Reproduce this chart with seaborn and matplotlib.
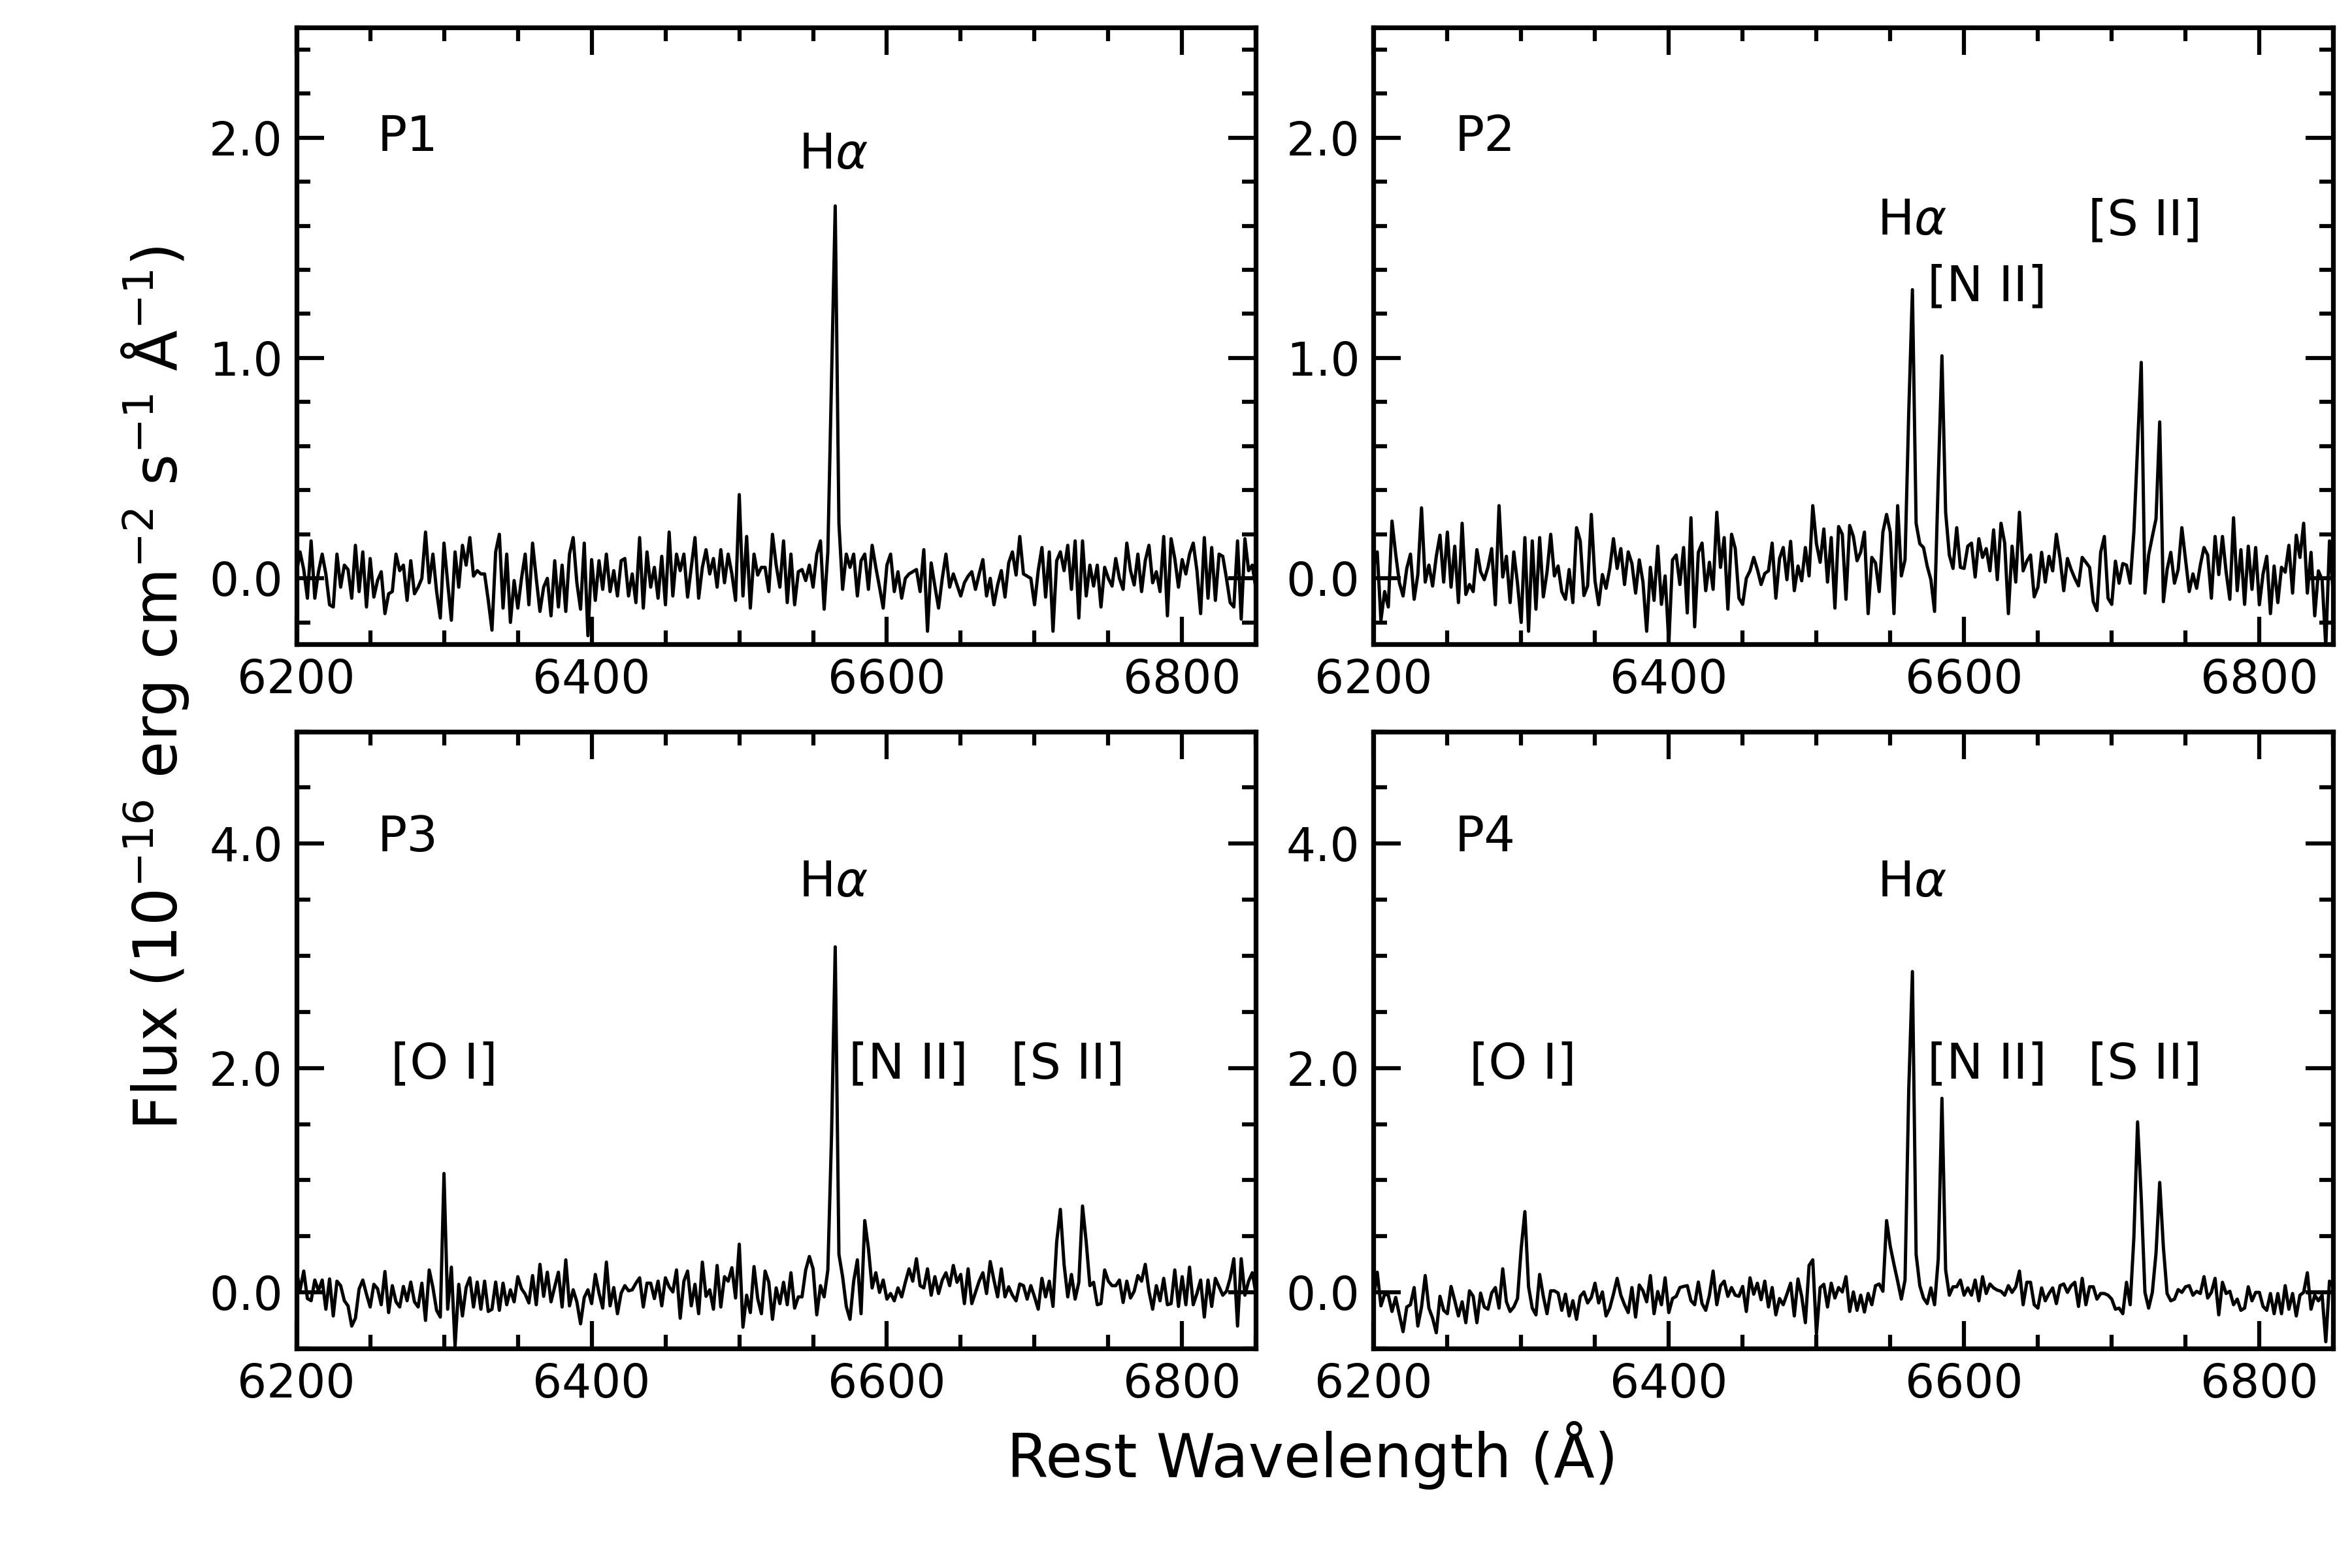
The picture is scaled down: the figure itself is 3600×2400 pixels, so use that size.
"""Spectra of four positions (P1-P4) around H-alpha, 2x2 panel figure."""

import matplotlib

matplotlib.use("Agg")
import matplotlib.pyplot as plt
import numpy as np
import pandas as pd
import seaborn as sns
from matplotlib.ticker import FormatStrFormatter, MultipleLocator

# Rest-frame wavelength grid of the spectra (Angstrom).
wavelength = np.arange(6200.0, 6850.0 + 1.25, 2.5)

# Flux in units of 1e-16 erg cm^-2 s^-1 A^-1, one row per 50 A.
flux_p1 = [
    0.02, 0.12, 0.04, -0.09, 0.17, -0.09, 0.03, 0.11, 0.02, -0.12, -0.13, 0.11, -0.04, 0.06, 0.04, -0.09, 0.15, -0.06, 0.12, -0.13,
    0.09, -0.085, -0.01, 0.03, -0.16, -0.07, -0.06, 0.11, 0.035, 0.06, -0.10, 0.08, -0.07, -0.04, 0.0, 0.21, -0.02, 0.11, -0.06, -0.18,
    0.16, -0.02, -0.19, 0.12, -0.04, 0.15, 0.06, 0.185, 0.01, 0.035, 0.02, 0.02, -0.1, -0.235, 0.12, 0.2, -0.135, 0.11, -0.2, -0.01,
    -0.135, 0.0, 0.11, -0.12, 0.16, 0.0, -0.15, -0.04, 0.0, -0.17, 0.08, -0.13, 0.06, -0.15, 0.11, 0.185, -0.02, -0.14, 0.16, -0.26,
    0.085, -0.1, 0.08, -0.05, 0.11, -0.06, 0.035, -0.08, 0.08, 0.09, -0.08, 0.02, -0.11, 0.185, -0.135, 0.12, -0.04, 0.05, -0.09, 0.1,
    -0.12, 0.21, -0.08, 0.11, 0.035, 0.11, -0.085, 0.05, 0.185, -0.09, 0.05, 0.13, 0.02, 0.09, -0.04, 0.13, -0.02, 0.11, 0.02, -0.1,
    0.38, -0.08, 0.19, -0.135, 0.11, 0.015, 0.05, 0.05, -0.06, 0.2, 0.06, -0.04, 0.17, -0.11, 0.11, -0.12, 0.03, 0.04, -0.01, 0.06,
    -0.04, 0.11, 0.17, -0.14, 0.12, 0.9, 1.69, 0.25, -0.05, 0.11, 0.05, 0.11, -0.08, 0.08, 0.11, -0.05, 0.15, 0.05, -0.04, -0.135,
    0.06, 0.11, -0.06, 0.03, -0.09, 0.0, 0.02, 0.03, 0.04, -0.06, 0.13, -0.24, 0.07, -0.035, -0.135, 0.0, 0.11, -0.04, 0.02, -0.03,
    -0.08, -0.02, 0.01, 0.03, -0.05, 0.02, 0.085, -0.08, 0.0, -0.12, -0.03, 0.035, -0.085, 0.07, 0.12, 0.015, 0.19, 0.02, 0.01, 0.0,
    -0.12, 0.035, 0.14, -0.085, 0.12, -0.24, 0.08, 0.12, 0.035, 0.15, -0.05, 0.17, -0.18, 0.17, -0.08, 0.06, -0.035, 0.06, -0.13, 0.05,
    0.0, -0.035, 0.09, 0.0, -0.05, 0.16, 0.035, -0.03, 0.11, -0.06, 0.08, 0.15, -0.02, 0.03, -0.06, 0.19, -0.17, 0.18, 0.09, -0.04,
    0.085, 0.02, 0.11, 0.16, 0.035, -0.16, 0.185, -0.09, 0.14, -0.1, 0.11, 0.1, 0.0, -0.11, -0.13, 0.17, -0.185, 0.18, 0.035, 0.06,
    -0.05,
]

flux_p2 = [
    0.05, 0.12, -0.19, -0.06, -0.13, 0.26, 0.11, -0.02, -0.08, 0.045, 0.11, -0.095, 0.017, 0.32, -0.017, 0.06, -0.035, 0.10, 0.196, -0.017,
    0.21, -0.04, 0.146, -0.11, 0.25, -0.073, -0.028, -0.06, 0.13, 0.03, -0.006, 0.05, 0.135, -0.12, 0.33, 0.006, 0.10, -0.11, 0.12, -0.022,
    -0.2, 0.185, -0.24, 0.17, -0.14, 0.185, -0.084, 0.028, 0.2, 0.011, 0.056, -0.06, -0.095, 0.04, -0.11, 0.23, 0.17, -0.078, -0.034, 0.29,
    -0.011, -0.12, 0.017, -0.045, 0.045, 0.18, 0.045, 0.135, -0.028, 0.12, 0.067, -0.067, 0.084, -0.017, -0.24, 0.05, -0.1, 0.146, -0.118, 0.011,
    -0.29, 0.084, 0.106, -0.028, 0.14, -0.157, 0.275, -0.22, 0.118, 0.16, -0.056, 0.073, -0.05, 0.30, 0.05, 0.185, -0.14, 0.2, 0.135, -0.09,
    -0.118, 0.0, 0.034, 0.095, 0.04, -0.028, 0.022, 0.034, 0.16, -0.09, 0.09, 0.14, -0.006, 0.168, -0.056, 0.056, -0.011, 0.14, 0.011, 0.33,
    0.157, 0.073, 0.224, -0.017, 0.185, -0.135, 0.235, 0.2, -0.095, 0.24, 0.19, 0.08, 0.12, 0.21, -0.16, 0.095, 0.07, -0.06, 0.21, 0.29,
    0.21, -0.16, 0.33, 0.011, 0.084, 0.75, 1.31, 0.25, 0.157, 0.14, 0.056, -0.006, -0.15, 0.45, 1.01, 0.3, 0.106, 0.045, 0.23, 0.05,
    0.045, 0.146, 0.16, 0.006, 0.18, 0.095, 0.135, 0.034, 0.22, -0.006, 0.25, 0.16, -0.16, 0.146, -0.017, 0.30, 0.034, 0.078, 0.106, -0.084,
    -0.04, 0.118, -0.017, 0.1, 0.034, 0.2, 0.09, -0.056, 0.09, 0.04, 0.0, -0.034, 0.095, 0.073, 0.05, -0.106, -0.146, 0.118, 0.19, -0.09,
    -0.118, 0.078, -0.022, 0.067, 0.06, -0.022, 0.21, 0.6, 0.98, -0.067, 0.106, 0.19, 0.27, 0.71, -0.106, 0.04, 0.118, -0.022, 0.04, 0.23,
    0.084, -0.06, 0.02, -0.045, 0.06, 0.14, 0.106, -0.09, 0.19, 0.017, 0.19, 0.028, -0.095, 0.275, -0.056, 0.13, -0.118, 0.146, -0.05, 0.14,
    -0.12, 0.02, 0.1, -0.16, 0.056, -0.11, 0.05, 0.028, 0.15, -0.067, 0.196, 0.095, 0.25, -0.067, 0.118, -0.17, 0.034, -0.006, -0.31, 0.17,
    -0.067,
]

flux_p3 = [
    0.2, 0.02, 0.19, -0.055, -0.074, 0.11, 0.014, 0.11, -0.15, 0.12, -0.21, 0.1, 0.06, -0.074, -0.12, -0.30, -0.23, 0.03, 0.11, -0.016,
    -0.13, 0.072, 0.033, -0.11, 0.186, -0.18, 0.06, -0.084, -0.13, 0.053, -0.074, 0.092, -0.084, -0.13, 0.082, -0.25, 0.2, 0.043, -0.16, -0.22,
    1.06, -0.15, 0.225, -0.48, 0.072, -0.21, 0.043, 0.13, -0.13, 0.092, -0.15, 0.1, -0.17, -0.15, 0.092, -0.16, 0.082, -0.11, 0.023, -0.084,
    0.14, 0.033, -0.016, -0.094, 0.15, -0.11, 0.25, -0.035, 0.18, -0.084, 0.05, 0.18, -0.13, 0.29, -0.12, 0.023, -0.084, -0.28, -0.045, 0.023,
    -0.1, 0.16, -0.006, -0.14, 0.27, -0.12, 0.043, -0.19, -0.006, 0.06, 0.014, 0.023, 0.082, 0.13, -0.13, 0.082, 0.082, -0.055, 0.1, -0.12,
    0.13, 0.05, 0.004, 0.2, -0.23, 0.1, 0.19, -0.12, 0.072, -0.19, 0.27, -0.035, 0.023, -0.15, 0.24, -0.13, 0.14, 0.1, 0.22, -0.05,
    0.43, -0.31, -0.025, -0.18, 0.23, -0.055, -0.19, 0.19, 0.092, -0.24, 0.04, -0.1, 0.09, -0.11, 0.175, -0.14, -0.04, -0.04, 0.2, 0.32,
    0.21, -0.2, 0.06, -0.04, 0.2, 1.4, 3.08, 0.34, 0.14, -0.125, -0.24, 0.1, 0.29, -0.19, 0.64, 0.39, 0.04, 0.175, 0.0, 0.11,
    -0.06, -0.01, -0.075, 0.04, -0.04, 0.09, 0.21, 0.1, 0.3, 0.06, 0.04, 0.21, -0.025, 0.14, -0.01, 0.11, 0.175, 0.06, 0.24, 0.09,
    0.16, -0.1, 0.21, -0.1, 0.0, 0.1, 0.175, -0.01, 0.275, 0.11, -0.04, 0.21, -0.04, 0.05, -0.025, -0.075, 0.075, 0.06, -0.06, 0.06,
    -0.04, -0.15, 0.125, -0.04, 0.1, -0.125, 0.45, 0.74, 0.25, -0.04, 0.16, -0.06, 0.09, 0.77, 0.45, 0.06, 0.09, -0.11, -0.1, 0.2,
    0.1, 0.06, 0.06, 0.11, -0.09, 0.1, -0.05, 0.01, 0.15, 0.1, 0.25, 0.01, -0.15, 0.06, -0.075, 0.125, -0.11, -0.1, 0.2, -0.125,
    0.14, -0.11, 0.225, -0.11, -0.01, 0.11, -0.22, 0.11, -0.125, 0.125, 0.05, -0.025, 0.01, 0.125, 0.3, -0.3, 0.3, -0.025, 0.1, 0.175,
    -0.01,
]

flux_p4 = [
    -0.05, 0.18, -0.12, -0.016, -0.025, -0.17, -0.045, -0.2, -0.35, -0.13, -0.11, 0.043, -0.3, -0.13, 0.15, -0.14, -0.23, -0.36, -0.035, -0.16,
    -0.19, 0.053, -0.074, -0.21, -0.084, -0.27, 0.014, -0.035, -0.27, -0.006, -0.13, -0.15, -0.006, 0.043, -0.14, 0.21, -0.084, -0.17, -0.13, -0.055,
    0.39, 0.72, 0.05, -0.14, -0.2, 0.16, -0.035, -0.19, 0.014, 0.014, -0.006, -0.16, -0.016, -0.21, -0.074, -0.24, -0.035, 0.004, -0.094, -0.045,
    0.082, -0.094, 0.004, -0.21, -0.14, -0.016, 0.125, -0.025, -0.11, -0.18, 0.043, -0.22, 0.066, 0.014, -0.084, 0.15, -0.19, 0.008, -0.11, 0.13,
    -0.18, -0.055, -0.035, 0.043, 0.053, 0.06, -0.074, -0.11, 0.092, -0.1, -0.16, -0.025, 0.19, -0.11, 0.06, 0.1, -0.035, 0.043, -0.025, -0.035,
    0.053, -0.17, 0.13, -0.016, 0.082, -0.065, 0.1, -0.13, 0.043, -0.2, -0.055, -0.11, -0.016, 0.082, -0.21, 0.12, -0.035, -0.27, 0.24, 0.29,
    -0.37, 0.043, 0.072, -0.13, 0.082, -0.05, 0.043, 0.004, 0.14, -0.17, 0.004, -0.16, -0.025, -0.175, -0.01, -0.11, 0.06, 0.075, 0.01, 0.64,
    0.41, 0.25, 0.1, -0.06, 0.11, 1.8, 2.86, 0.34, 0.06, -0.05, -0.1, 0.04, -0.11, 0.3, 1.73, 0.2, -0.025, 0.05, 0.05, 0.11,
    -0.025, 0.04, -0.025, 0.11, -0.075, 0.14, -0.01, 0.075, 0.04, 0.02, 0.01, -0.025, 0.06, 0.0, 0.05, 0.19, -0.11, 0.09, 0.09, -0.11,
    -0.14, 0.04, -0.075, -0.01, 0.04, -0.1, 0.06, 0.075, 0.0, 0.06, 0.09, -0.125, 0.125, -0.11, 0.05, 0.05, -0.06, -0.01, -0.01, -0.025,
    -0.06, -0.15, -0.14, -0.19, 0.09, -0.11, 0.49, 1.52, 0.84, 0.0, -0.14, 0.0, 0.35, 0.98, 0.4, -0.01, -0.075, -0.06, 0.025, 0.0,
    0.05, 0.06, -0.025, 0.01, -0.01, 0.14, -0.05, 0.0, 0.125, -0.2, 0.09, -0.01, 0.01, -0.11, -0.06, -0.16, -0.14, 0.05, -0.075, 0.0,
    0.0, -0.125, -0.16, -0.01, -0.19, -0.01, -0.19, 0.06, -0.15, -0.01, -0.21, -0.025, 0.0, 0.175, -0.15, -0.025, -0.075, -0.025, -0.44, 0.1,
    0.05,
]

panel_names = ["P1", "P2", "P3", "P4"]
panel_fluxes = [flux_p1, flux_p2, flux_p3, flux_p4]
x_tick_labels = ["6200", "6400", "6600", "6800"]

# Emission-line labels per panel: (text, wavelength, flux) of the label's left edge.
line_labels = {
    "P1": [(r"H$\alpha$", 6540, 1.92)],
    "P2": [(r"H$\alpha$", 6541, 1.62), ("[N II]", 6575, 1.32), ("[S II]", 6684, 1.62)],
    "P3": [(r"H$\alpha$", 6540, 3.65), ("[O I]", 6264, 2.03), ("[N II]", 6574, 2.03), ("[S II]", 6684, 2.03)],
    "P4": [(r"H$\alpha$", 6541, 3.65), ("[O I]", 6265, 2.03), ("[N II]", 6575, 2.03), ("[S II]", 6684, 2.03)],
}

for flux in panel_fluxes:
    assert len(flux) == len(wavelength), len(flux)

sns.set_style("ticks")
plt.rcParams["font.family"] = ["DejaVu Sans"]
plt.rcParams["mathtext.fontset"] = "dejavusans"
# seaborn greys out text and spines; the original figure is plain black
for key in ("text.color", "axes.labelcolor", "axes.edgecolor", "xtick.color", "ytick.color"):
    plt.rcParams[key] = "black"

fig, axes = plt.subplots(2, 2, figsize=(12, 8), dpi=300)
fig.subplots_adjust(left=0.126, right=0.992, top=0.9825, bottom=0.14,
                    wspace=0.1225, hspace=0.141)

for i, (ax, name, flux) in enumerate(zip(axes.flat, panel_names, panel_fluxes)):
    frame = pd.DataFrame({"wavelength": wavelength, "flux": flux})
    sns.lineplot(data=frame, x="wavelength", y="flux", ax=ax, color="black",
                 linewidth=1.2, estimator=None)

    top_row = i < 2
    ax.set_xlim(6200, 6850)
    if top_row:
        ax.set_ylim(-0.3, 2.5)
        ax.yaxis.set_major_locator(MultipleLocator(1.0))
        ax.yaxis.set_minor_locator(MultipleLocator(0.2))
        label_y = 2.0
    else:
        ax.set_ylim(-0.5, 5.0)
        ax.yaxis.set_major_locator(MultipleLocator(2.0))
        ax.yaxis.set_minor_locator(MultipleLocator(0.5))
        label_y = 4.05
    ax.yaxis.set_major_formatter(FormatStrFormatter("%.1f"))
    ax.set_xticks([int(t) for t in x_tick_labels])
    ax.set_xticklabels(x_tick_labels)
    ax.xaxis.set_minor_locator(MultipleLocator(50))

    ax.tick_params(which="both", direction="in", top=True, right=True,
                   width=1.5, labelsize=17, pad=5, colors="black")
    ax.tick_params(which="major", length=10)
    ax.tick_params(which="minor", length=5)
    for spine in ax.spines.values():
        spine.set_linewidth(1.75)
        spine.set_color("black")
    ax.set_xlabel("")
    ax.set_ylabel("")

    ax.text(6255, label_y, name, fontsize=18, ha="left", va="center", color="black")
    for text, x, y in line_labels[name]:
        ax.text(x, y, text, fontsize=18, ha="left", va="center", color="black")

fig.text(0.558, 0.072, "Rest Wavelength (Å)", fontsize=22, ha="center", va="center",
         color="black")
fig.text(0.066, 0.561, r"Flux (10$^{-16}$ erg cm$^{-2}$ s$^{-1}$ Å$^{-1}$)",
         fontsize=22, ha="center", va="center", rotation=90, color="black")

fig.savefig("out.png", dpi=300)
